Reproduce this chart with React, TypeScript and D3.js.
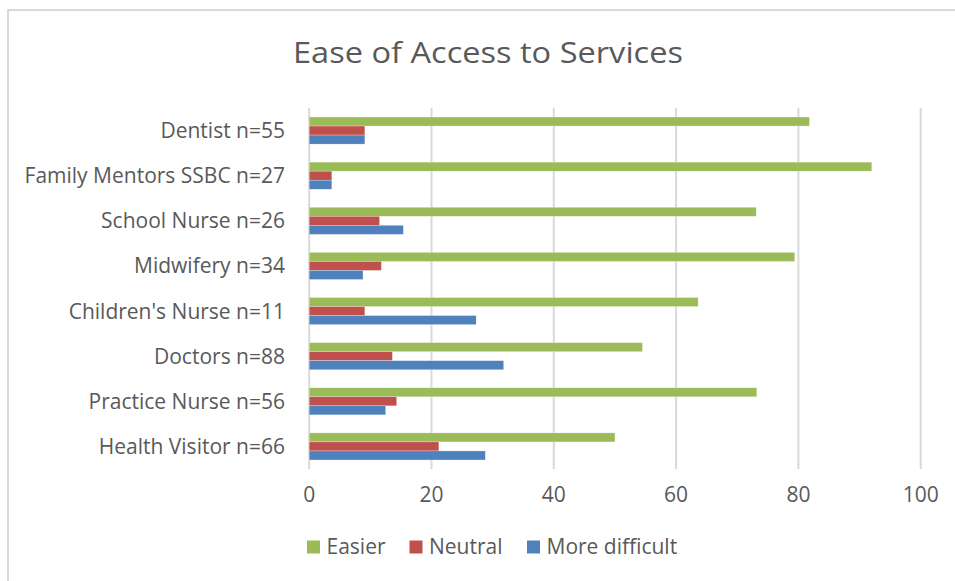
import React from "react";
import * as d3 from "d3";

const categories = [
  "Dentist n=55",
  "Family Mentors SSBC n=27",
  "School Nurse n=26",
  "Midwifery n=34",
  "Children's Nurse n=11",
  "Doctors n=88",
  "Practice Nurse n=56",
  "Health Visitor n=66",
];
const seriesNames = ["Easier", "Neutral", "More difficult"];
const easier = [81.8, 92.0, 73.1, 79.4, 63.6, 54.5, 73.2, 50.0];
const neutral = [9.1, 3.7, 11.5, 11.8, 9.1, 13.6, 14.3, 21.2];
const moreDifficult = [9.1, 3.7, 15.4, 8.8, 27.3, 31.8, 12.5, 28.8];
const xTicks = [0, 20, 40, 60, 80, 100];
const colors = ["#9BBB59", "#C0504D", "#4F81BD"];

const W = 955;
const H = 581;
const FONT = "'Open Sans', 'Noto Sans', sans-serif";
const TEXT = "#595959";

export default function App() {
  const values = [easier, neutral, moreDifficult];
  const x = d3.scaleLinear().domain([0, 100]).range([309.2, 920.7]);
  const y = d3
    .scaleBand<string>()
    .domain(categories)
    .range([108, 469])
    .paddingInner(0.4)
    .paddingOuter(0.2);
  const ys = d3
    .scaleBand<string>()
    .domain(seriesNames)
    .range([0, y.bandwidth()]);

  const legendX = [307, 409.5, 527];

  return (
    <svg
      width={W}
      height={H}
      style={{ position: "absolute", left: 0, top: 0, background: "#fff" }}
      fontFamily={FONT}
    >
      <rect x={0} y={0} width={W} height={H} fill="#fff" />
      {/* chart border */}
      <path d={`M8,${H + 5} L8,10 L${W + 5},10`} fill="none" stroke="#d9d9d9" strokeWidth={2} />

      <text
        x={488}
        y={63}
        textAnchor="middle"
        fontSize={30}
        fill={TEXT}
        textLength={390}
        lengthAdjust="spacingAndGlyphs"
      >
        Ease of Access to Services
      </text>

      {/* gridlines */}
      {xTicks.map((t) => (
        <line
          key={"g" + t}
          x1={x(t)}
          x2={x(t)}
          y1={108}
          y2={469}
          stroke="#d9d9d9"
          strokeWidth={2}
        />
      ))}

      {/* bars */}
      {categories.map((c, i) => (
        <g key={c} transform={`translate(0,${y(c)})`}>
          {seriesNames.map((s, k) => (
            <rect
              key={s}
              x={x(0)}
              y={ys(s)}
              width={x(values[k][i]) - x(0)}
              height={ys.bandwidth()}
              fill={colors[k]}
              stroke="#fff"
              strokeOpacity={0.5}
              strokeWidth={0.5}
            />
          ))}
        </g>
      ))}

      {/* category labels */}
      {categories.map((c) => (
        <text
          key={"l" + c}
          x={285}
          y={(y(c) as number) + y.bandwidth() / 2}
          dy="0.36em"
          textAnchor="end"
          fontSize={21}
          fill={TEXT}
        >
          {c}
        </text>
      ))}

      {/* x tick labels */}
      {xTicks.map((t) => (
        <text
          key={"t" + t}
          x={x(t)}
          y={502}
          textAnchor="middle"
          fontSize={21}
          fill={TEXT}
        >
          {t}
        </text>
      ))}

      {/* legend */}
      {seriesNames.map((s, k) => (
        <g key={"lg" + s}>
          <rect x={legendX[k]} y={540.5} width={13} height={13} fill={colors[k]} />
          <text x={legendX[k] + 19.5} y={554} fontSize={21} fill={TEXT}>
            {s}
          </text>
        </g>
      ))}
    </svg>
  );
}
